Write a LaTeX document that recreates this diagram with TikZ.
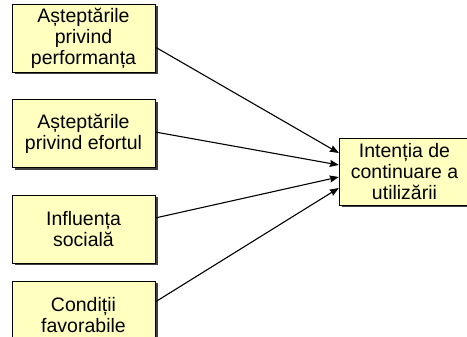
\documentclass[tikz,border=0pt]{standalone}
\usepackage{fontspec}
\setmainfont{Liberation Sans}
\usetikzlibrary{arrows.meta,shadows}
\definecolor{boxfill}{HTML}{FFFFC0}

\begin{document}
\begin{tikzpicture}[ x=1pt, y=1pt, >={Stealth[length=9pt,width=7pt,inset=1pt]},
    factor/.style={ draw, fill=boxfill, align=center, font=\fontsize{19.5}{21}\selectfont,
    minimum width=143pt, minimum height=68pt, inner sep=1pt,
    drop shadow={ shadow xshift=2.5pt, shadow yshift=-2.5pt, fill=black!75, opacity=1 } },
    link/.style={ ->, line width=1.1pt } ]
  \useasboundingbox (0,0) rectangle (467,337);
  \foreach \y/\n/\t in {299/a1/{Așteptările\\privind\\performanța},
    203.5/a2/{Așteptările\\privind efortul},108/a3/{Influența\\socială},
    22/a4/{Condiții\\favorabile}}
  \node[factor] (\n) at (83.5,\y) {\t};
  \node[factor, minimum width=131pt, minimum height=67pt] (goal) at (404.5,165.5)
    {Intenția de\\continuare a\\utilizării};
  \foreach \n/\s/\e in {a1/-9/18.5,a2/1.5/6.5,a3/11/-5.5,a4/13/-16.5}
  \draw[link] ([yshift=\s pt]\n.east) -- ([yshift=\e pt]goal.west);
\end{tikzpicture}
\end{document}
